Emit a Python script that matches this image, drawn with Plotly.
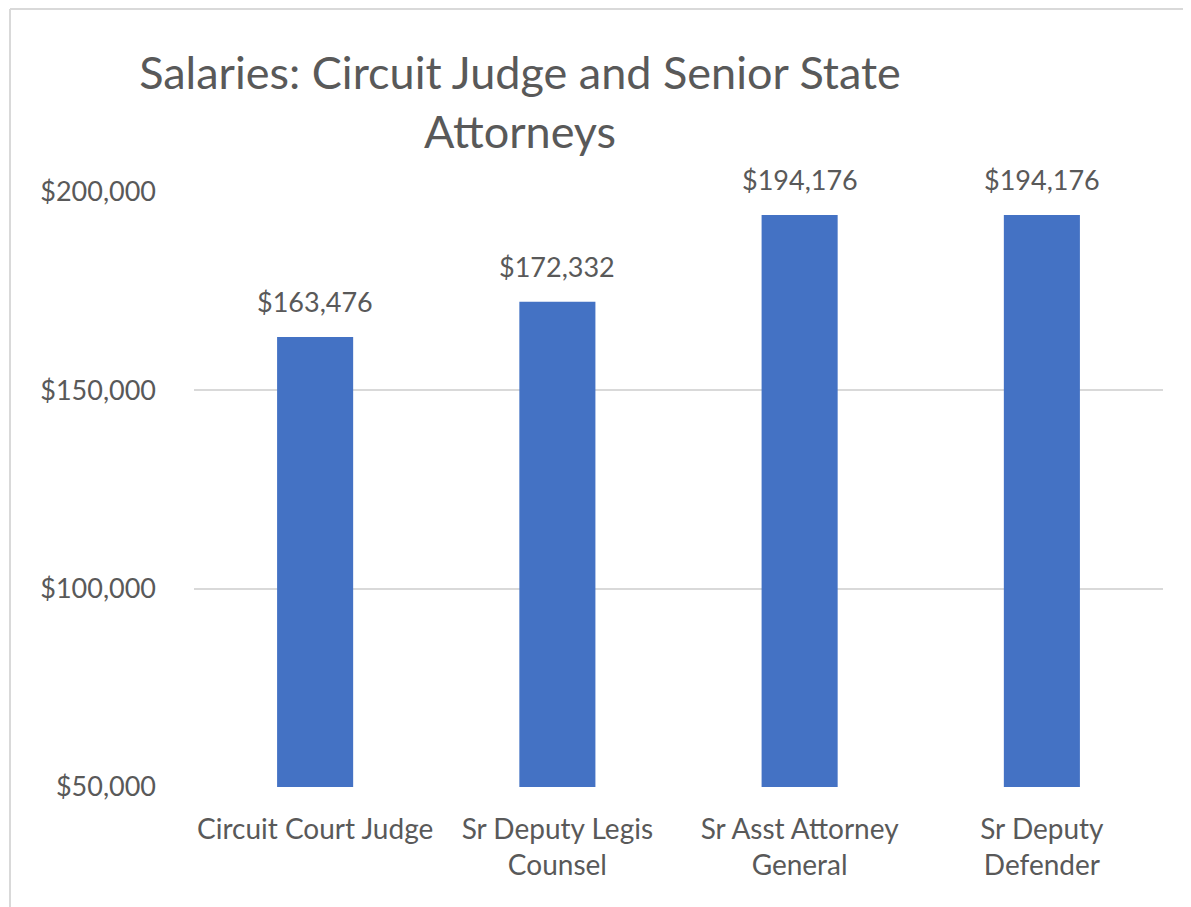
import plotly.graph_objects as go

categories = ["Circuit Court Judge", "Sr Deputy Legis<br>Counsel", "Sr Asst Attorney<br>General", "Sr Deputy<br>Defender"]
salaries = [163476, 172332, 194176, 194176]
tick_vals = [50000, 100000, 150000, 200000]
tick_text = ["$50,000", "$100,000", "$150,000", "$200,000"]
title_text = "Salaries: Circuit Judge and Senior State<br>Attorneys"

FONT = "Lato"
GRAY = "#595959"

# page body has an 8px margin; the figure is sized so it ends at the window edge
OFF = 8
W, H = 1191 - OFF, 907 - OFF
L, R, T, B = 194 - OFF, 28, 192 - OFF, 120
pw, ph = W - L - R, H - T - B

fig = go.Figure()
fig.add_trace(go.Bar(
    x=categories, y=salaries,
    marker=dict(color="#4472C4", line=dict(width=0)),
    hoverinfo="skip",
))

for c, v in zip(categories, salaries):
    fig.add_annotation(x=c, y=v, text=f"${v:,.0f}", showarrow=False,
                       yanchor="bottom", yshift=17,
                       font=dict(family=FONT, size=27, color=GRAY))

# chart-area border: only the top and left edges are visible in the reference
bx0 = (10 - OFF - L) / pw
bx1 = (W + 60 - L) / pw
by0 = (H - B - (H + 60)) / ph
by1 = (H - B - 1) / ph
fig.add_shape(type="line", xref="paper", yref="paper", x0=bx0, x1=bx1, y0=by1, y1=by1,
              line=dict(color="#d9d9d9", width=2), layer="below")
fig.add_shape(type="line", xref="paper", yref="paper", x0=bx0, x1=bx0, y0=by0, y1=by1,
              line=dict(color="#d9d9d9", width=2), layer="below")

fig.update_layout(
    width=W, height=H,
    margin=dict(l=L, r=R, t=T, b=B, autoexpand=False),
    paper_bgcolor="white", plot_bgcolor="white",
    bargap=0.686,
    showlegend=False,
    title=dict(text=title_text, x=(520 - OFF) / W, xanchor="center",
               y=1 - (89 - OFF) / H, yanchor="top", xref="container", yref="container",
               font=dict(family=FONT, size=45, color=GRAY)),
    font=dict(family=FONT, color=GRAY),
)
fig.update_xaxes(showgrid=False, showline=False, zeroline=False, ticks="",
                 tickfont=dict(family=FONT, size=28, color=GRAY),
                 ticklabelstandoff=23)
fig.update_yaxes(range=[50000, 200000], tickvals=tick_vals, ticktext=tick_text,
                 showgrid=True, gridcolor="#d9d9d9", gridwidth=1.5,
                 zeroline=False, showline=False, ticks="",
                 tickfont=dict(family=FONT, size=27, color=GRAY),
                 ticklabelstandoff=37)
fig.update_traces(cliponaxis=False)

fig.write_html("out.html")
